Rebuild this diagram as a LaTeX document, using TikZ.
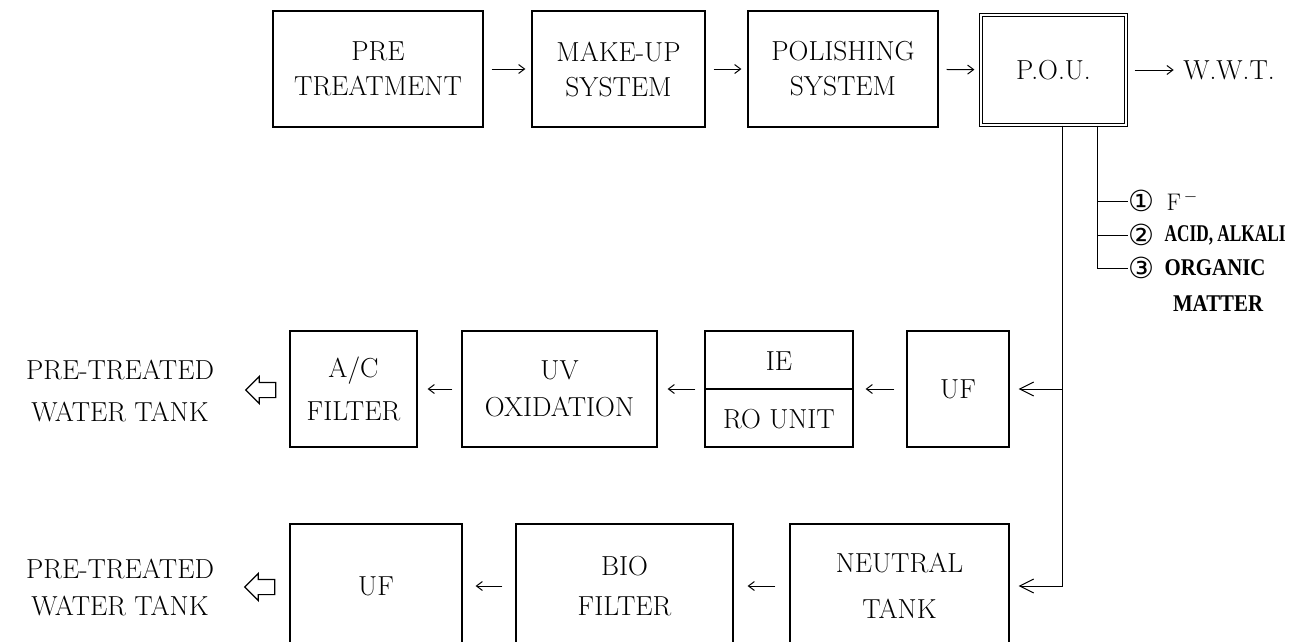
\documentclass[tikz,border=0pt]{standalone}
\usepackage{fontspec}
\usetikzlibrary{arrows.meta, shapes.arrows}
\newfontfamily\circfont{DejaVu Sans}
\newfontfamily\narrowfont[FakeStretch=0.72]{Liberation Serif}
\newfontfamily\orgfont[FakeStretch=0.87]{Liberation Serif}

\tikzset{
  box/.style={draw, line width=1.2pt, inner sep=0pt, align=center},
  flow/.style={-{Straight Barb[length=6pt,width=9pt]}, line width=1pt, shorten <=8pt, shorten >=6pt},
  inlet/.style={-{Straight Barb[length=14pt,width=14pt]}, line width=1pt, shorten >=9pt},
  hollow/.style={single arrow, draw, line width=1.2pt, shape border rotate=180,
    minimum height=30pt, single arrow head extend=6pt, inner sep=7pt},
  lbl/.style={anchor=west, inner sep=0pt}
}

\begin{document}
\begin{tikzpicture}[x=1pt, y=-1pt, font=\fontsize{27.5}{35}\selectfont]
  \useasboundingbox (0,0) rectangle (1298,641);
  \clip (0,0) rectangle (1298,641);
  % top row
  \node[box, minimum width=210, minimum height=116] (pre) at (378,69) {PRE\\TREATMENT};
  \node[box, minimum width=173, minimum height=116] (makeup) at (618.5,69) {MAKE-UP\\SYSTEM};
  \node[box, minimum width=190, minimum height=116] (polish) at (843,69) {POLISHING\\SYSTEM};
  \node[box, double, double distance=2pt, minimum width=145, minimum height=110] (pou) at (1053.5,70) {P.O.U.};
  \node (wwt) at (1229,70) {W.W.T.};
  \draw[flow] (pre) -- (makeup);
  \draw[flow] (makeup) -- (polish);
  \draw[flow] (polish) -- (pou);
  \draw[flow] (pou) -- (wwt);

  % middle row
  \node[box, minimum width=102, minimum height=116] (uf) at (958,389) {UF};
  \node[box, minimum width=148, minimum height=116] (iero) at (779,389) {};
  \node (ie) at (779,361) {IE};
  \node (ro) at (779,419) {RO UNIT};
  \draw[line width=1.4pt] (iero.west) -- (iero.east);
  \node[box, minimum width=195, minimum height=116] (uv) at (559.5,389) {UV\\[2pt]OXIDATION};
  \node[box, minimum width=127, minimum height=116] (acf) at (353.5,389) {A/C\\[8pt]FILTER};
  \node[hollow] (outa) at (264.5,390) {};
  \node[align=center] (tanka) at (120,391) {PRE-TREATED\\[7pt]WATER TANK};
  \draw[flow, shorten <=12pt, shorten >=12pt] (uf) -- (iero);
  \draw[flow, shorten <=9pt, shorten >=10pt] (iero) -- (uv);
  \draw[flow, shorten <=9pt, shorten >=10pt] (uv) -- (acf);

  % bottom row (cut off by the page edge)
  \node[box, minimum width=219, minimum height=124] (neutral) at (899.5,586) {NEUTRAL\\[11pt]TANK};
  \node[box, minimum width=217, minimum height=124] (bio) at (624.5,586) {BIO\\[5pt]FILTER};
  \node[box, minimum width=172, minimum height=124] (ufb) at (376,586) {UF};
  \node[hollow] (outb) at (263.5,587) {};
  \node[align=center] (tankb) at (120,587) {PRE-TREATED\\[2pt]WATER TANK};
  \draw[flow, shorten <=14pt, shorten >=14pt] (neutral) -- (bio);
  \draw[flow, shorten <=13pt, shorten >=13pt] (bio) -- (ufb);

  % drain from P.O.U.
  \coordinate (tap) at (1062,0);
  \draw[inlet] (pou.south -| tap) |- (neutral.east);
  \draw[inlet] (tap |- uf.east) -- (uf.east);

  % waste streams
  \coordinate (drain) at (1097,0);
  \node[lbl, font={\circfont\fontsize{29}{30}\selectfont}] (c1) at (1128,201) {①};
  \node[lbl, font={\circfont\fontsize{29}{30}\selectfont}] (c2) at (1128,235) {②};
  \node[lbl, font={\circfont\fontsize{29}{30}\selectfont}] (c3) at (1128,268) {③};
  \node[lbl, xshift=12pt, font=\fontsize{24}{24}\selectfont] (fion) at (c1.east) {F$^{\,-}$};
  \node[lbl, xshift=10pt, font={\narrowfont\bfseries\fontsize{24}{24}\selectfont}] (acid) at (c2.east) {ACID, ALKALI};
  \node[lbl, xshift=10pt, font={\orgfont\bfseries\fontsize{24}{24}\selectfont}] (org) at (c3.east) {ORGANIC};
  \node[anchor=north, inner sep=0pt, xshift=3pt, yshift=-19pt, font={\orgfont\bfseries\fontsize{24}{24}\selectfont}] (mat) at (org.south) {MATTER};
  \draw[line width=1pt] (pou.south -| drain) |- (c3.west);
  \draw[line width=1pt] (drain |- c1.west) -- (c1.west);
  \draw[line width=1pt] (drain |- c2.west) -- (c2.west);
\end{tikzpicture}
\end{document}
